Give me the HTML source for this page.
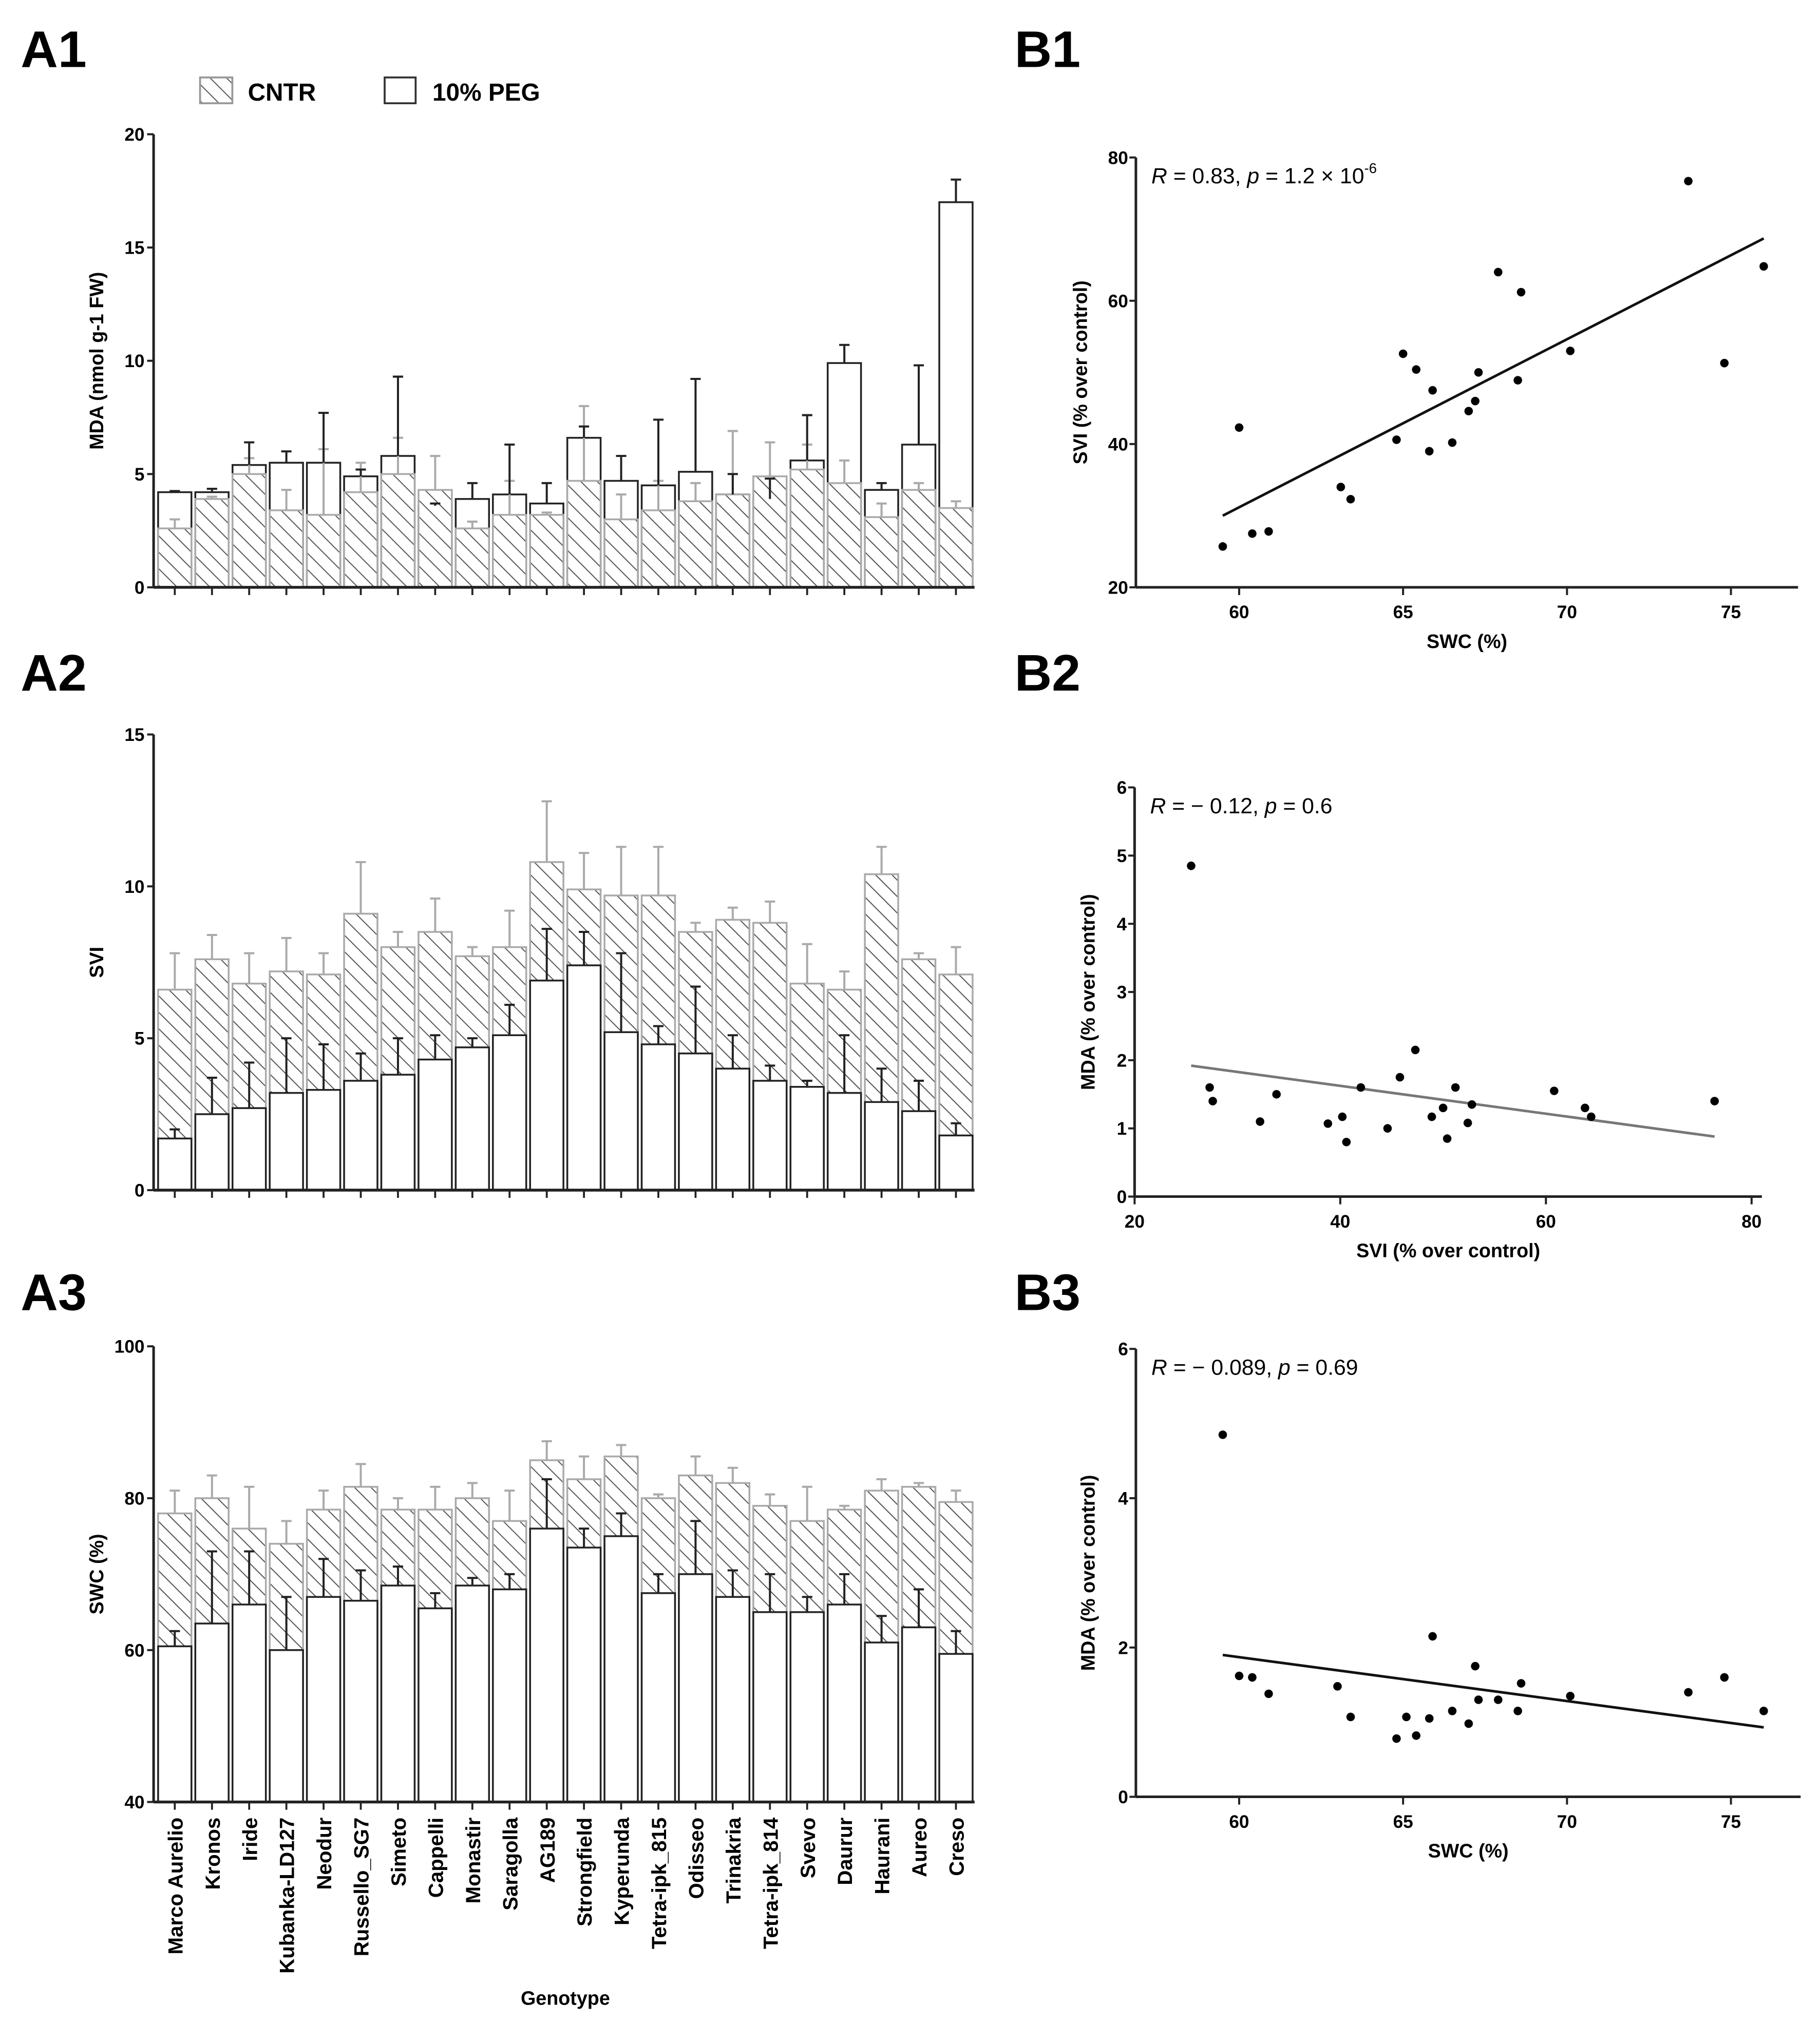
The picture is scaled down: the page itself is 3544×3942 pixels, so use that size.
<!DOCTYPE html>
<html><head><meta charset="utf-8"><style>
html,body{margin:0;padding:0;background:#fff;}
svg{display:block;}
text{font-family:"Liberation Sans",sans-serif;}
</style></head><body>
<svg id="fig" xmlns="http://www.w3.org/2000/svg" width="3544" height="3942" viewBox="0 0 1410 1568" preserveAspectRatio="none">
<defs>
<pattern id="hatch" patternUnits="userSpaceOnUse" width="9" height="9" patternTransform="rotate(-45)">
<rect width="9" height="9" fill="#fff"/>
<line x1="0" y1="0" x2="0" y2="9" stroke="#555" stroke-width="1.6"/>
</pattern>
</defs>
<g font-weight="bold" font-size="40" fill="#000">
<text x="16" y="52">A1</text>
<text x="16" y="535">A2</text>
<text x="16" y="1015">A3</text>
<text x="786" y="52">B1</text>
<text x="786" y="535">B2</text>
<text x="786" y="1015">B3</text>
</g>
<g>
<rect x="155" y="60" width="25" height="20" fill="url(#hatch)" stroke="#999" stroke-width="1.5"/>
<text x="192" y="78" font-size="19" font-weight="bold">CNTR</text>
<rect x="298" y="60" width="24" height="20" fill="#fff" stroke="#333" stroke-width="1.5"/>
<text x="335" y="78" font-size="19" font-weight="bold">10% PEG</text>
</g>
<g id="charts"></g>
</svg>
<script>
const genotypes=["Marco Aurelio","Kronos","Iride","Kubanka-LD127","Neodur","Russello_SG7","Simeto","Cappelli","Monastir","Saragolla","AG189","Strongfield","Kyperunda","Tetra-ipk_815","Odisseo","Trinakria","Tetra-ipk_814","Svevo","Daurur","Haurani","Aureo","Creso"];
const mdaCntr=[2.6,3.9,5.0,3.4,3.2,4.2,5.0,4.3,2.6,3.2,3.2,4.7,3.0,3.4,3.8,4.1,4.9,5.2,4.6,3.1,4.3,3.5];
const mdaCntrErr=[3.0,4.0,5.7,4.3,6.1,5.5,6.6,5.8,2.9,4.7,3.3,8.0,4.1,4.7,4.6,6.9,6.4,6.3,5.6,3.7,4.6,3.8];
const mdaPeg=[4.2,4.2,5.4,5.5,5.5,4.9,5.8,3.6,3.9,4.1,3.7,6.6,4.7,4.5,5.1,4.1,3.9,5.6,9.9,4.3,6.3,17.0];
const mdaPegErr=[4.25,4.35,6.4,6.0,7.7,5.2,9.3,3.7,4.6,6.3,4.6,7.1,5.8,7.4,9.2,5.0,4.8,7.6,10.7,4.6,9.8,18.0];
const mdaTicks=[0,5,10,15,20];
const sviCntr=[6.6,7.6,6.8,7.2,7.1,9.1,8.0,8.5,7.7,8.0,10.8,9.9,9.7,9.7,8.5,8.9,8.8,6.8,6.6,10.4,7.6,7.1];
const sviCntrErr=[7.8,8.4,7.8,8.3,7.8,10.8,8.5,9.6,8.0,9.2,12.8,11.1,11.3,11.3,8.8,9.3,9.5,8.1,7.2,11.3,7.8,8.0];
const sviPeg=[1.7,2.5,2.7,3.2,3.3,3.6,3.8,4.3,4.7,5.1,6.9,7.4,5.2,4.8,4.5,4.0,3.6,3.4,3.2,2.9,2.6,1.8];
const sviPegErr=[2.0,3.7,4.2,5.0,4.8,4.5,5.0,5.1,5.0,6.1,8.6,8.5,7.8,5.4,6.7,5.1,4.1,3.6,5.1,4.0,3.6,2.2];
const sviTicks=[0,5,10,15];
const swcCntr=[78,80,76,74,78.5,81.5,78.5,78.5,80,77,85,82.5,85.5,80,83,82,79,77,78.5,81,81.5,79.5];
const swcCntrErr=[81,83,81.5,77,81,84.5,80,81.5,82,81,87.5,85.5,87,80.5,85.5,84,80.5,81.5,79,82.5,82,81];
const swcPeg=[60.5,63.5,66,60,67,66.5,68.5,65.5,68.5,68,76,73.5,75,67.5,70,67,65,65,66,61,63,59.5];
const swcPegErr=[62.5,73,73,67,72,70.5,71,67.5,69.5,70,82.5,76,78,70,77,70.5,70,67,70,64.5,68,62.5];
const swcTicks=[40,60,80,100];
const b1X=[59.5,60.0,60.4,60.9,63.1,63.4,64.8,65.0,65.4,65.8,65.9,66.5,67.0,67.2,67.3,67.9,68.5,68.6,70.1,73.7,74.8,76.0];
const b1Y=[25.7,42.3,27.5,27.8,34,32.3,40.6,52.6,50.4,39,47.5,40.2,44.6,46,50,64,48.9,61.2,53,76.7,51.3,64.8];
const b1Fit=[[59.5,30],[76,68.7]];
const b2X=[25.5,27.3,27.6,32.2,33.8,38.8,40.2,40.6,42.0,44.6,45.8,47.3,48.9,50.0,50.4,51.2,52.4,52.8,60.8,63.8,64.4,76.4];
const b2Y=[4.85,1.6,1.4,1.1,1.5,1.07,1.17,0.8,1.6,1.0,1.75,2.15,1.17,1.3,0.85,1.6,1.08,1.35,1.55,1.3,1.17,1.4];
const b2Fit=[[25.5,1.92],[76.4,0.88]];
const b3X=[59.5,60.0,60.4,60.9,63.0,63.4,64.8,65.1,65.4,65.8,65.9,66.5,67.0,67.2,67.3,67.9,68.5,68.6,70.1,73.7,74.8,76.0];
const b3Y=[4.85,1.62,1.6,1.38,1.48,1.07,0.78,1.07,0.82,1.05,2.15,1.15,0.98,1.75,1.3,1.3,1.15,1.52,1.35,1.4,1.6,1.15];
const b3Fit=[[59.5,1.9],[76,0.93]];
const swcXTicks=[60,65,70,75];
const sviXTicks=[20,40,60,80];
const b1YTicks=[20,40,60,80];
const mdaPctTicks=[0,2,4,6];
const mdaPctTicks1=[0,1,2,3,4,5,6];

const NS="http://www.w3.org/2000/svg";
const root=document.getElementById('charts');
function mk(tag,attrs,parent,txt){const e=document.createElementNS(NS,tag);for(const k in attrs)e.setAttribute(k,attrs[k]);if(txt!==undefined)e.textContent=txt;(parent||root).appendChild(e);return e;}

function barChart(name,cntr,cErr,peg,pErr,ticks,x0,x1,yBase,yTop,vmin,vmax,ylabel,ylabX,pegFirst){
  const g=mk('g',{});
  
  
  const ys=v=>yBase-(v-vmin)/(vmax-vmin)*(yBase-yTop);
  const n=cntr.length, pitch=(x1-x0-2)/n, bw=pitch-3;
  const errs=[];
  for(let i=0;i<n;i++){
    const bx=x0+2+i*pitch+1.5;
    const drawC=()=>{const r=mk('rect',{x:bx,y:ys(cntr[i]),width:bw,height:yBase-ys(cntr[i]),fill:'url(#hatch)',stroke:'#aaa','stroke-width':1.4},g);
      
      };
    const drawP=()=>{const r=mk('rect',{x:bx,y:ys(peg[i]),width:bw,height:yBase-ys(peg[i]),fill:'#fff',stroke:'#222','stroke-width':1.4},g);
      
      };
    if(pegFirst){drawP();drawC();}else{drawC();drawP();}
    const cx=bx+bw/2;
    const e1=mk('path',{d:`M${cx} ${ys(cntr[i])}V${ys(cErr[i])}M${cx-4} ${ys(cErr[i])}H${cx+4}`,stroke:'#aaa','stroke-width':1.6,fill:'none'},g);
    
    
    const e2=mk('path',{d:`M${cx} ${ys(peg[i])}V${ys(pErr[i])}M${cx-4} ${ys(pErr[i])}H${cx+4}`,stroke:'#222','stroke-width':1.6,fill:'none'},g);
    
    
    mk('line',{x1:cx,y1:yBase,x2:cx,y2:yBase+6,stroke:'#222','stroke-width':1.5},g);
  }
  mk('line',{x1:x0,y1:yTop,x2:x0,y2:yBase,stroke:'#222','stroke-width':2},g);
  mk('line',{x1:x0,y1:yBase,x2:x1,y2:yBase,stroke:'#222','stroke-width':2.2},g);
  ticks.forEach(t=>{mk('line',{x1:x0-5,y1:ys(t),x2:x0,y2:ys(t),stroke:'#222','stroke-width':1.6},g);
    const tl=mk('text',{x:x0-7,y:ys(t)+5,'font-size':14,'font-weight':'bold','text-anchor':'end'},g,String(t));
    
    });
  const yl=mk('text',{x:ylabX,y:(yBase+yTop)/2,'font-size':15,'font-weight':'bold','text-anchor':'middle',transform:`rotate(-90 ${ylabX} ${(yBase+yTop)/2})`},g,ylabel);
  
  
  return {pitch:pitch,bw:bw};
}
barChart('chart-a1-mda',mdaCntr,mdaCntrErr,mdaPeg,mdaPegErr,mdaTicks,119,755,455,104,0,20,'MDA (nmol g-1 FW)',80,true);
barChart('chart-a2-svi',sviCntr,sviCntrErr,sviPeg,sviPegErr,sviTicks,119,755,922,569,0,15,'SVI',80,false);
const geo=barChart('chart-a3-swc',swcCntr,swcCntrErr,swcPeg,swcPegErr,swcTicks,119,755,1396,1043,40,100,'SWC (%)',80,false);
genotypes.forEach((gname,i)=>{
  const cx=119+2+i*geo.pitch+1.5+geo.bw/2+6;
  const t=mk('text',{x:cx,y:1408,'font-size':16,'font-weight':'bold','text-anchor':'end',transform:`rotate(-90 ${cx} 1408)`},root,gname);
  
  
});
const gt=mk('text',{x:438,y:1553,'font-size':15,'font-weight':'bold','text-anchor':'middle'},root,'Genotype');



function scatter(name,xs,ysv,fit,xTicks,yTicks,xmin,xmax,px0,px1,ymin,ymax,py0,py1,axX0,axX1,lineColor,stat,xl,yl,ylX){
  const g=mk('g',{});
  
  
  const sx=v=>px0+(v-xmin)/(xmax-xmin)*(px1-px0);
  const sy=v=>py0-(v-ymin)/(ymax-ymin)*(py0-py1);
  mk('line',{x1:axX0,y1:sy(yTicks[yTicks.length-1]),x2:axX0,y2:sy(ymin),stroke:'#222','stroke-width':2},g);
  mk('line',{x1:axX0,y1:sy(ymin),x2:axX1,y2:sy(ymin),stroke:'#222','stroke-width':2},g);
  yTicks.forEach(t=>{mk('line',{x1:axX0-5,y1:sy(t),x2:axX0,y2:sy(t),stroke:'#222','stroke-width':1.6},g);
    const tl=mk('text',{x:axX0-6,y:sy(t)+5,'font-size':14,'font-weight':'bold','text-anchor':'end'},g,String(t));
    
    });
  xTicks.forEach(t=>{mk('line',{x1:sx(t),y1:sy(ymin),x2:sx(t),y2:sy(ymin)+6,stroke:'#222','stroke-width':1.6},g);
    const tl=mk('text',{x:sx(t),y:sy(ymin)+24,'font-size':14,'font-weight':'bold','text-anchor':'middle'},g,String(t));
    
    });
  const fl=mk('line',{x1:sx(fit[0][0]),y1:sy(fit[0][1]),x2:sx(fit[1][0]),y2:sy(fit[1][1]),stroke:lineColor,'stroke-width':2},g);
  
  
  xs.forEach((v,i)=>{const c=mk('circle',{cx:sx(v),cy:sy(ysv[i]),r:3.3,fill:'#000'},g);
    
    });
  const st=mk('text',{x:axX0+12,y:sy(yTicks[yTicks.length-1])+20,'font-size':17},g);
  st.innerHTML=stat;
  
  
  const xt=mk('text',{x:(axX0+axX1)/2,y:sy(ymin)+47,'font-size':15,'font-weight':'bold','text-anchor':'middle'},g,xl);
  
  
  const ym=(sy(ymin)+sy(yTicks[yTicks.length-1]))/2;
  const yt=mk('text',{x:ylX,y:ym,'font-size':15,'font-weight':'bold','text-anchor':'middle',transform:`rotate(-90 ${ylX} ${ym})`},g,yl);
  
  
}
scatter('chart-b1',b1X,b1Y,b1Fit,swcXTicks,b1YTicks,60,75,960,1341,20,80,455,122,880,1393,'#111',
 '<tspan font-style="italic">R</tspan> = 0.83, <tspan font-style="italic">p</tspan> = 1.2 × 10<tspan font-size="11" dy="-8">-6</tspan>','SWC (%)','SVI (% over control)',842);
scatter('chart-b2',b2X,b2Y,b2Fit,sviXTicks,mdaPctTicks1,20,80,879,1357,0,6,927,610,879,1365,'#777',
 '<tspan font-style="italic">R</tspan> = − 0.12, <tspan font-style="italic">p</tspan> = 0.6','SVI (% over control)','MDA (% over control)',848);
scatter('chart-b3',b3X,b3Y,b3Fit,swcXTicks,mdaPctTicks,60,75,960,1341,0,6,1392,1045,880,1395,'#111',
 '<tspan font-style="italic">R</tspan> = − 0.089, <tspan font-style="italic">p</tspan> = 0.69','SWC (%)','MDA (% over control)',848);
</script>
</body></html>
